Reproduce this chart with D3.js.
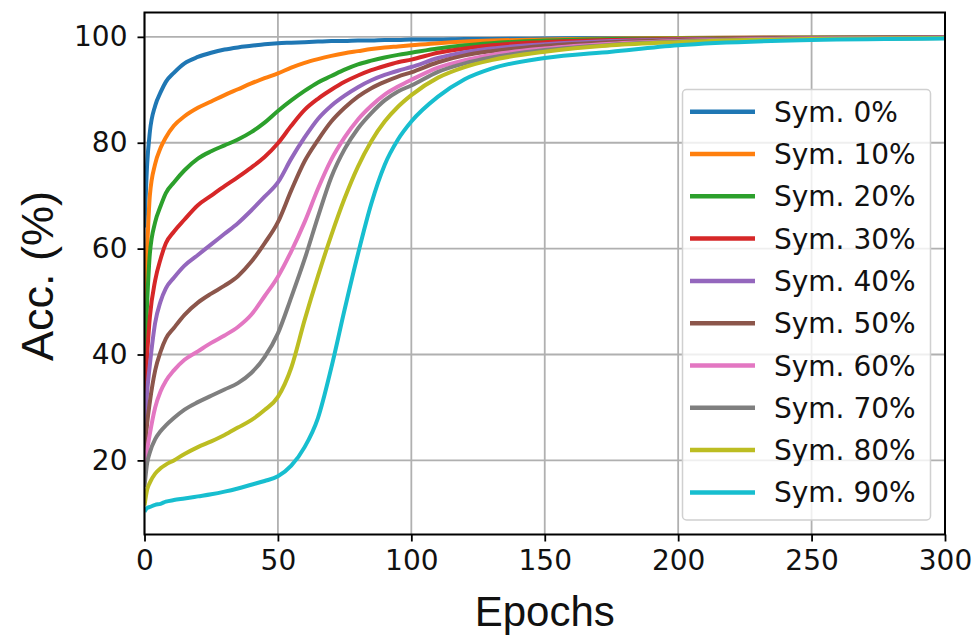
<!DOCTYPE html>
<html>
<head>
<meta charset="utf-8">
<script src="https://cdn.jsdelivr.net/npm/d3@7"></script>
<style>
  body { margin: 0; background: #fff; }
  svg { display: block; }
  .tick text { font-family: "DejaVu Sans", sans-serif; }
</style>
</head>
<body>
<svg id="chart" width="977" height="636"></svg>
<script>
const epochs = [0, 1, 2, 4, 6, 8, 11, 15, 20, 25, 30, 35, 40, 45, 50, 55, 60, 65, 70, 75, 80, 85, 90, 95, 100, 110, 120, 130, 150, 175, 200, 250, 300];

const sym0  = [64, 76, 82, 87, 89.5, 91.5, 93.2, 95, 96.2, 97, 97.6, 98, 98.3, 98.6, 98.8, 98.9, 99, 99.1, 99.2, 99.2, 99.3, 99.3, 99.4, 99.4, 99.5, 99.5, 99.6, 99.6, 99.7, 99.8, 99.8, 99.9, 99.9];
const sym10 = [47, 60, 70, 76, 79, 81, 83.2, 85, 86.6, 87.8, 89, 90.1, 91.2, 92.2, 93.1, 94.2, 95.1, 95.8, 96.4, 96.9, 97.3, 97.7, 98, 98.2, 98.4, 98.8, 99.1, 99.3, 99.5, 99.7, 99.8, 99.9, 99.9];
const sym20 = [38, 50, 59, 65, 68, 70.5, 72.5, 74.8, 77, 78.4, 79.5, 80.6, 82, 83.8, 86, 88, 89.8, 91.4, 92.6, 93.8, 94.8, 95.5, 96.1, 96.6, 97, 97.8, 98.4, 98.8, 99.3, 99.6, 99.7, 99.85, 99.9];
const sym30 = [31, 40, 47, 54, 58, 61, 63.2, 65.5, 68.2, 70, 71.8, 73.5, 75.3, 77.3, 79.9, 83.2, 86.2, 88.3, 90, 91.5, 92.7, 93.7, 94.5, 95.2, 95.7, 97, 97.8, 98.4, 99, 99.4, 99.6, 99.8, 99.9];
const sym40 = [25, 33, 38, 46, 50, 52.5, 54.5, 56.8, 58.8, 60.8, 62.8, 64.8, 67.2, 69.8, 72.5, 77, 81, 84.5, 87, 88.9, 90.5, 91.8, 92.8, 93.6, 94.3, 96, 97.1, 97.8, 98.6, 99.2, 99.5, 99.8, 99.9];
const sym50 = [21, 27, 31, 37, 40.5, 43, 45, 47.5, 49.8, 51.5, 53, 54.8, 57.5, 61, 65, 71, 76.5, 80.5, 84, 86.6, 88.7, 90.3, 91.5, 92.5, 93.3, 95.2, 96.5, 97.3, 98.3, 99, 99.4, 99.8, 99.9];
const sym60 = [18, 22, 25, 30, 33, 35, 37, 39, 40.6, 42.2, 43.6, 45.2, 47.5, 51, 54.7, 59.5, 65, 71.3, 76.8, 81, 84.4, 87, 89.1, 90.6, 91.9, 94.2, 95.6, 96.6, 97.8, 98.7, 99.2, 99.7, 99.85];
const sym70 = [15, 19.5, 21.5, 24, 25.5, 26.6, 28, 29.6, 31, 32.2, 33.4, 34.6, 36.5, 39.5, 44, 50.8, 58, 66, 73.5, 78.8, 82.7, 85.6, 88, 89.7, 90.8, 93.4, 95, 96.1, 97.5, 98.5, 99.1, 99.6, 99.8];
const sym80 = [11.5, 14.5, 15.8, 17.5, 18.5, 19.2, 20, 21.2, 22.5, 23.6, 24.8, 26.2, 27.6, 29.5, 32, 37.5, 46.5, 54.8, 62.5, 69.5, 75.5, 80.3, 84, 86.8, 89, 92.3, 94.3, 95.6, 97.2, 98.4, 99, 99.6, 99.8];
const sym90 = [10.3, 11, 11.2, 11.6, 11.8, 12.2, 12.5, 12.8, 13.2, 13.6, 14.1, 14.7, 15.4, 16.1, 17, 19, 22.5, 28, 37.5, 48.5, 59, 68.5, 75.8, 80.6, 84, 88.7, 92, 94, 96, 97.2, 98.4, 99.4, 99.7];

const labels = ["Sym. 0%", "Sym. 10%", "Sym. 20%", "Sym. 30%", "Sym. 40%", "Sym. 50%", "Sym. 60%", "Sym. 70%", "Sym. 80%", "Sym. 90%"];
const seriesValues = [sym0, sym10, sym20, sym30, sym40, sym50, sym60, sym70, sym80, sym90];
const xTicks = [0, 50, 100, 150, 200, 250, 300];
const yTicks = [20, 40, 60, 80, 100];

// plot area
const margin = { top: 12.5, right: 32, bottom: 101.5, left: 144.5 };
const width = 977 - margin.left - margin.right;
const height = 636 - margin.top - margin.bottom;

const x = d3.scaleLinear().domain([0, 300]).range([0, width]);
const y = d3.scaleLinear().domain([6.0, 104.6]).range([height, 0]);

const color = d3.scaleOrdinal()
    .domain(labels)
    .range(d3.schemeCategory10);

const svg = d3.select("#chart");
const g = svg.append("g")
    .attr("transform", `translate(${margin.left},${margin.top})`);

// grid
g.append("g")
    .selectAll("line")
    .data(xTicks)
    .join("line")
    .attr("x1", d => x(d)).attr("x2", d => x(d))
    .attr("y1", 0).attr("y2", height)
    .attr("stroke", "#b0b0b0").attr("stroke-width", 1.8);

g.append("g")
    .selectAll("line")
    .data(yTicks)
    .join("line")
    .attr("x1", 0).attr("x2", width)
    .attr("y1", d => y(d)).attr("y2", d => y(d))
    .attr("stroke", "#b0b0b0").attr("stroke-width", 1.8);

// curves
const line = d3.line()
    .x(d => x(d[0]))
    .y(d => y(d[1]))
    .curve(d3.curveMonotoneX);

g.append("defs").append("clipPath").attr("id", "clip")
    .append("rect").attr("width", width).attr("height", height);

const curves = g.append("g").attr("clip-path", "url(#clip)");
seriesValues.forEach((vals, i) => {
    curves.append("path")
        .datum(epochs.map((e, j) => [e, vals[j]]))
        .attr("fill", "none")
        .attr("stroke", color(labels[i]))
        .attr("stroke-width", 4)
        .attr("stroke-linejoin", "round")
        .attr("d", line);
});

// axes
const xAxis = g.append("g")
    .attr("transform", `translate(0,${height})`)
    .call(d3.axisBottom(x).tickValues(xTicks).tickSize(7).tickPadding(9).tickSizeOuter(0));
const yAxis = g.append("g")
    .call(d3.axisLeft(y).tickValues(yTicks).tickSize(7).tickPadding(10).tickSizeOuter(0));

[xAxis, yAxis].forEach(a => {
    a.select(".domain").remove();
    a.selectAll(".tick line").attr("stroke", "#000").attr("stroke-width", 1.8);
    a.selectAll(".tick text").attr("fill", "#111").style("font-size", "28px");
});

// frame
g.append("rect")
    .attr("width", width).attr("height", height)
    .attr("fill", "none").attr("stroke", "#000").attr("stroke-width", 2);

// axis labels
svg.append("text")
    .attr("x", margin.left + width / 2)
    .attr("y", 626)
    .attr("text-anchor", "middle")
    .style("font-family", "'Liberation Sans', Arial, sans-serif")
    .style("font-size", "42px")
    .attr("fill", "#111")
    .text("Epochs");

svg.append("text")
    .attr("transform", `translate(53,276) rotate(-90)`)
    .attr("text-anchor", "middle")
    .style("font-family", "'Liberation Sans', Arial, sans-serif")
    .style("font-size", "45px")
    .attr("fill", "#111")
    .text("Acc. (%)");

// legend
const legend = svg.append("g");
legend.append("rect")
    .attr("x", 682.5).attr("y", 89.5)
    .attr("width", 248).attr("height", 430.5)
    .attr("rx", 4)
    .attr("fill", "#fff").attr("fill-opacity", 0.8)
    .attr("stroke", "#d0d0d0").attr("stroke-width", 1.5);

const rows = legend.selectAll(".row")
    .data(labels)
    .join("g")
    .attr("class", "row")
    .attr("transform", (d, i) => `translate(0,${111.7 + i * 42.3})`);

rows.append("line")
    .attr("x1", 690).attr("x2", 755)
    .attr("stroke", d => color(d))
    .attr("stroke-width", 4.5);

rows.append("text")
    .attr("x", 774)
    .attr("dy", "0.36em")
    .style("font-family", "'DejaVu Sans', sans-serif")
    .style("font-size", "28px")
    .attr("fill", "#111")
    .text(d => d);
</script>
</body>
</html>
